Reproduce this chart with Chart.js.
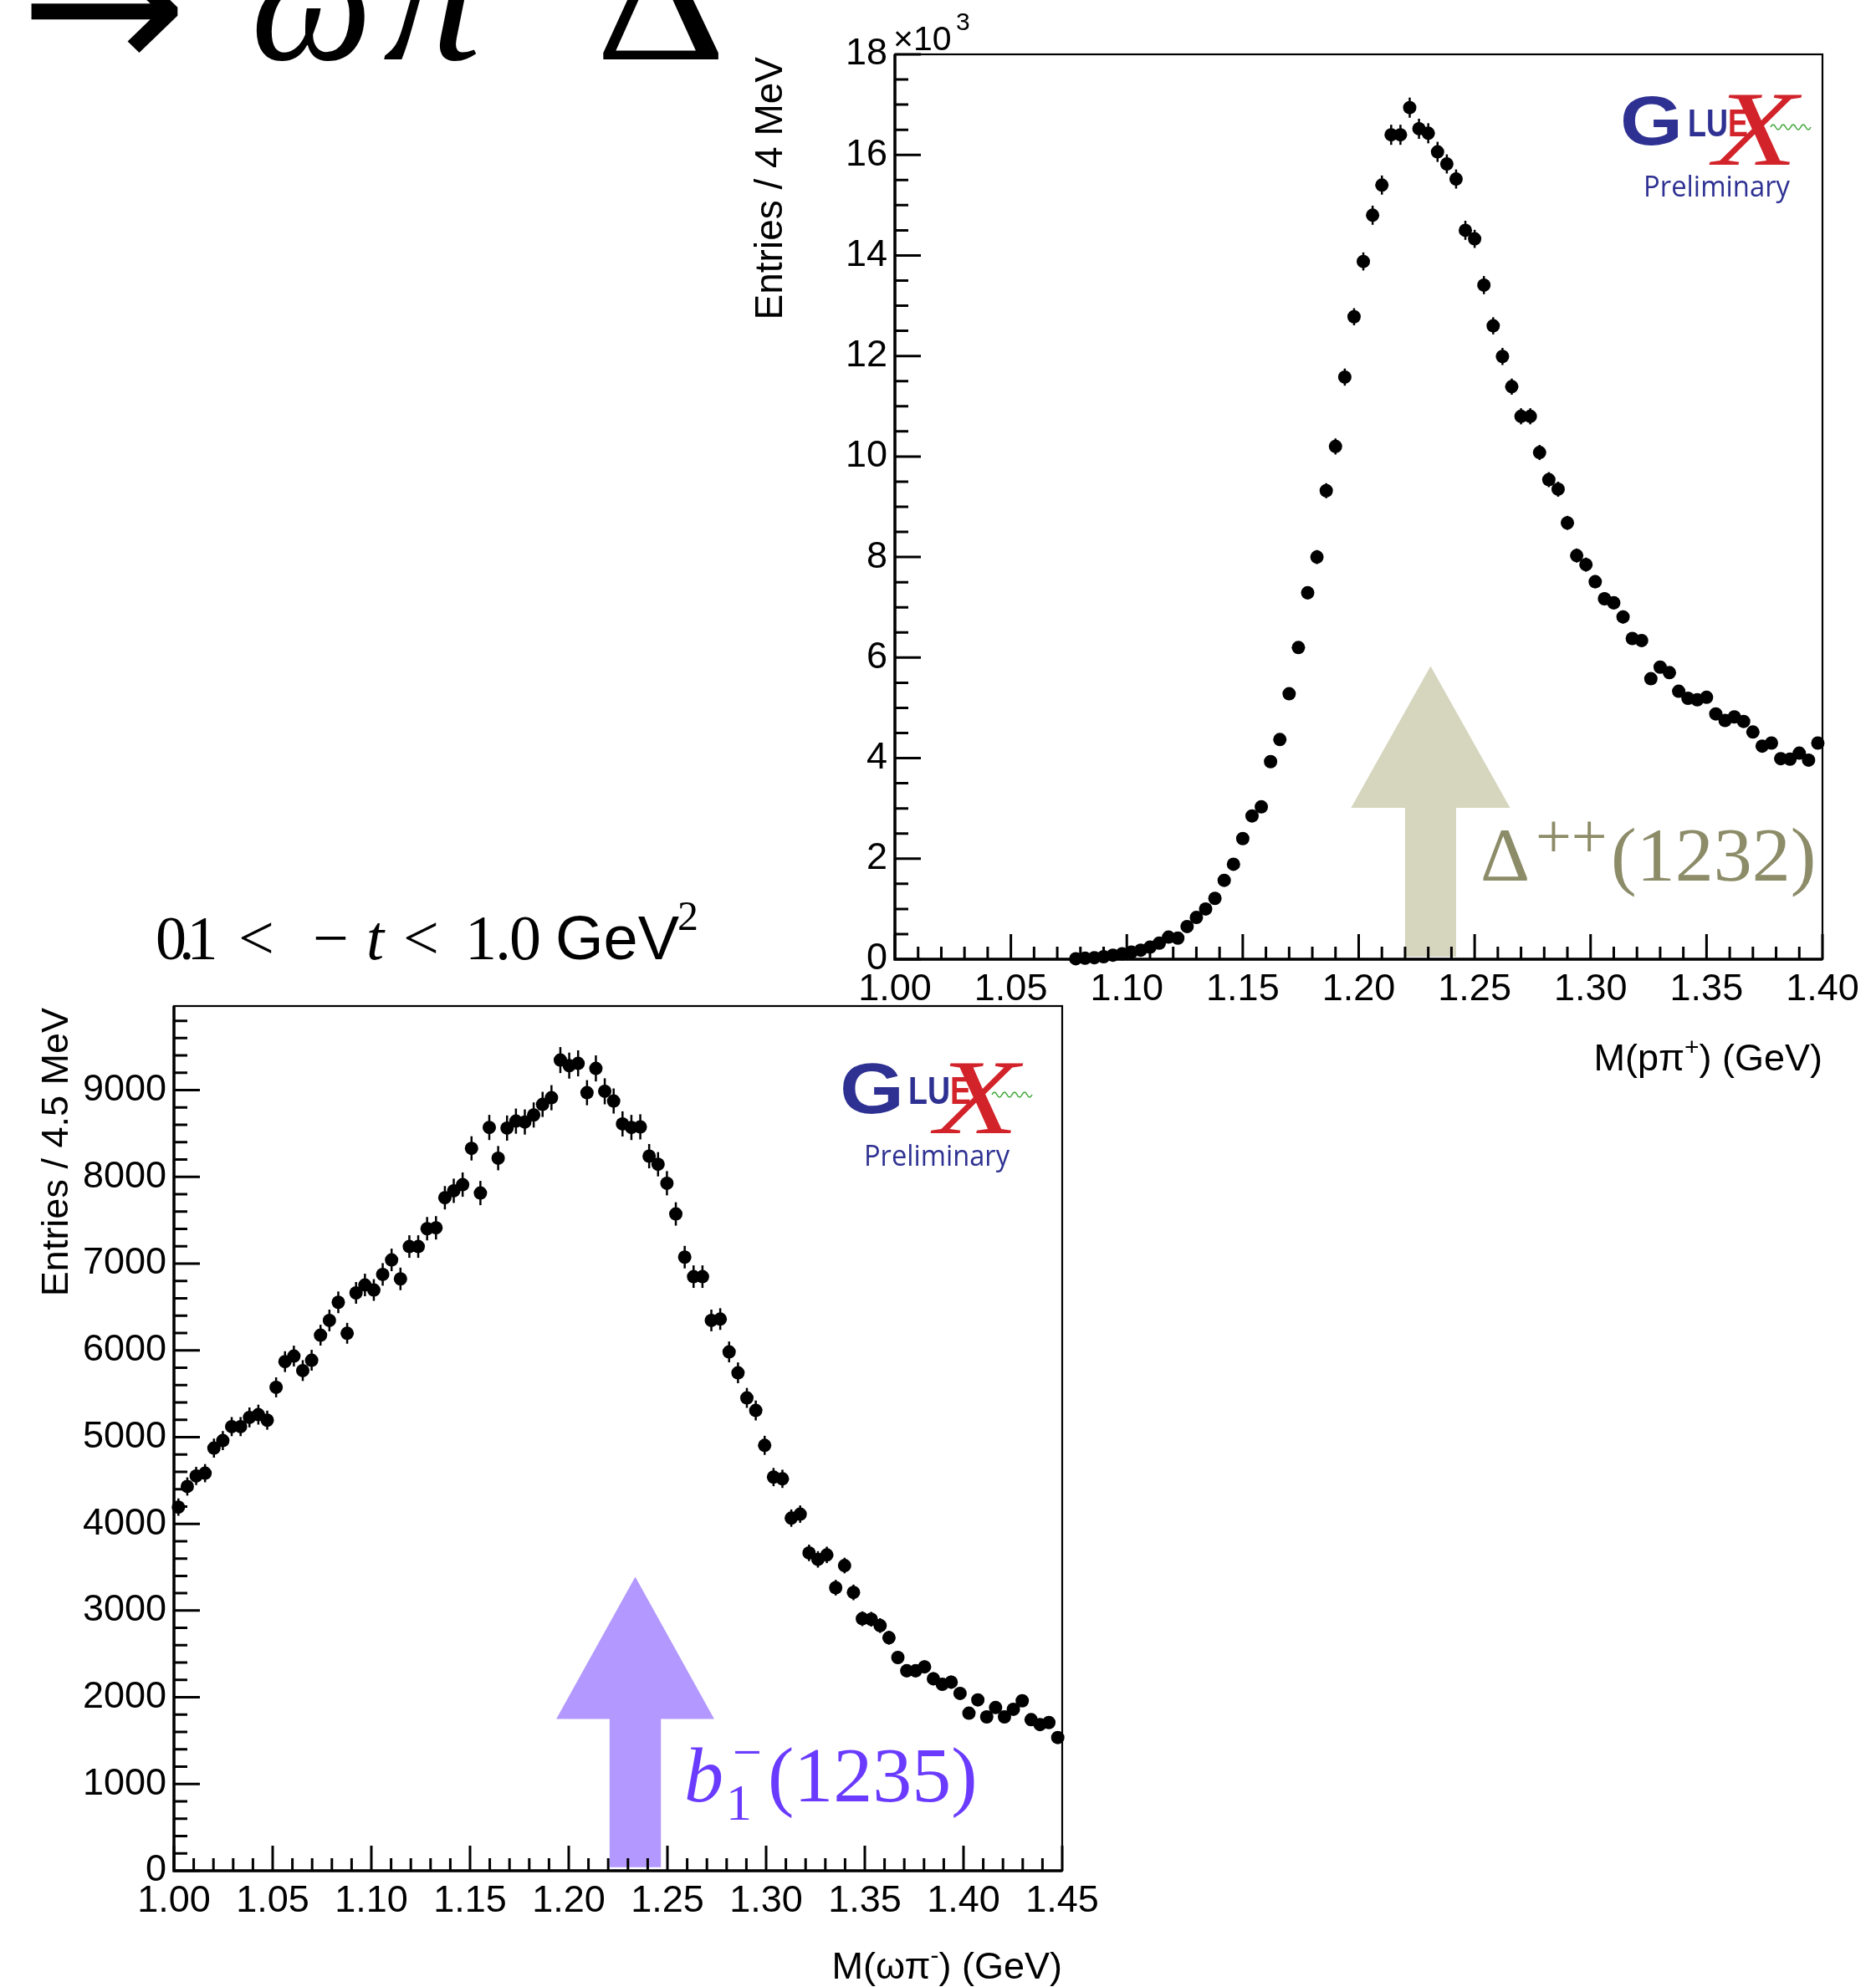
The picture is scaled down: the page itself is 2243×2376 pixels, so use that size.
<!DOCTYPE html>
<html>
<head>
<meta charset="utf-8">
<script src="https://cdn.jsdelivr.net/npm/chart.js@4.4.1/dist/chart.umd.min.js"></script>
<style>
  html, body { margin: 0; padding: 0; background: #fff; }
  body { width: 2243px; height: 2376px; position: relative; overflow: hidden; }
  .plot { position: absolute; }
  #overlay { position: absolute; left: 0; top: 0; z-index: 5; }
</style>
</head>
<body>
<div class="plot" style="left:950px; top:0px; width:1293px; height:1240px">
  <canvas id="deltaChart" width="1293" height="1240" style="width:1293px;height:1240px"></canvas>
</div>
<div class="plot" style="left:80px; top:1150px; width:1250px; height:1180px">
  <canvas id="b1Chart" width="1250" height="1180" style="width:1250px;height:1180px"></canvas>
</div>

<svg id="overlay" width="2243" height="2376" xmlns="http://www.w3.org/2000/svg">
  <!-- slide title, cut at the top edge -->
  <g font-family="Liberation Serif" fill="#000">
    <text x="24" y="86" font-family="DejaVu Sans" font-size="230" textLength="200" lengthAdjust="spacingAndGlyphs">→</text>
    <text x="300" y="71" font-size="205" font-style="italic">ω</text>
    <text x="458" y="71" font-size="205" font-style="italic" textLength="118" lengthAdjust="spacingAndGlyphs">π</text>
    <text x="712" y="71" font-size="200" textLength="156" lengthAdjust="spacingAndGlyphs">Δ</text>
  </g>

  <!-- t range -->
  <g font-family="Liberation Serif" font-size="76" fill="#000">
    <text x="186" y="1147" font-size="74" letter-spacing="-9">0.1</text>
    <text x="285" y="1147">&lt;</text>
    <text x="374" y="1147">−</text>
    <text x="438" y="1147" font-style="italic">t</text>
    <text x="482" y="1147">&lt;</text>
    <text x="556" y="1147" letter-spacing="-2">1.0</text>
    <text x="664" y="1147" font-family="Liberation Sans" font-size="74">GeV</text>
    <text x="810" y="1112" font-size="50">2</text>
  </g>

  <!-- top panel labels -->
  <g font-family="Liberation Sans" fill="#000">
    <text x="1068" y="60" font-size="41">×10</text>
    <text x="1143" y="36" font-size="30">3</text>
    <text transform="translate(935,68) rotate(-90)" text-anchor="end" font-size="46">Entries / 4 MeV</text>
    <text x="2179" y="1280" text-anchor="end" font-size="45">M(pπ<tspan dy="-18" font-size="30">+</tspan><tspan dy="18">) (GeV)</tspan></text>
  </g>
  <text y="1053" font-family="Liberation Serif" font-size="92" fill="#8c8c69">
    <tspan x="1770">Δ</tspan><tspan x="1836" y="1025" font-size="76">++</tspan><tspan x="1926" y="1053">(1232)</tspan>
  </text>

  <!-- bottom panel labels -->
  <g font-family="Liberation Sans" fill="#000">
    <text transform="translate(81,1205) rotate(-90)" text-anchor="end" font-size="45">Entries / 4.5 MeV</text>
    <text x="1270" y="2366" text-anchor="end" font-size="45">M(ωπ<tspan dy="-18" font-size="30">-</tspan><tspan dy="18">) (GeV)</tspan></text>
  </g>
  <text y="2154" font-family="Liberation Serif" font-size="94" fill="#6a3bff">
    <tspan x="818" font-style="italic">b</tspan><tspan x="868" y="2176" font-size="62">1</tspan><tspan x="876" y="2116" font-size="62">−</tspan><tspan x="918" y="2154">(1235)</tspan>
  </text>

  <!-- GlueX logos -->
  <g id="logoTop" transform="translate(1939,116)">
    <text x="-2" y="57" font-family="Liberation Sans" font-weight="bold" font-size="84" fill="#2e3192" textLength="75" lengthAdjust="spacingAndGlyphs">G</text>
    <text x="79" y="47" font-family="Liberation Sans" font-weight="bold" font-size="46" textLength="72" lengthAdjust="spacingAndGlyphs"><tspan fill="#2e3192">LU</tspan><tspan fill="#d2232a">E</tspan></text>
    <text x="110" y="81" font-family="Liberation Serif" font-style="italic" font-size="128" fill="#d2232a" textLength="100" lengthAdjust="spacingAndGlyphs">X</text>
    <path d="M178 36 q3 -6 6 0 t6 0 t6 0 t6 0 t6 0 t6 0 t6 0 t6 0" stroke="#3fa73a" stroke-width="1.6" fill="none"/>
    <text x="26" y="119" font-family="Open Sans" font-size="34" fill="#2e3192" textLength="175" lengthAdjust="spacingAndGlyphs">Preliminary</text>
  </g>
  <g id="logoBottom" transform="translate(1006,1273)">
    <text x="-2" y="58" font-family="Liberation Sans" font-weight="bold" font-size="85" fill="#2e3192" textLength="77" lengthAdjust="spacingAndGlyphs">G</text>
    <text x="80" y="47" font-family="Liberation Sans" font-weight="bold" font-size="46" textLength="75" lengthAdjust="spacingAndGlyphs"><tspan fill="#2e3192">LU</tspan><tspan fill="#d2232a">E</tspan></text>
    <text x="112" y="82" font-family="Liberation Serif" font-style="italic" font-size="128" fill="#d2232a" textLength="100" lengthAdjust="spacingAndGlyphs">X</text>
    <path d="M180 36 q3 -6 6 0 t6 0 t6 0 t6 0 t6 0 t6 0 t6 0 t6 0" stroke="#3fa73a" stroke-width="1.6" fill="none"/>
    <text x="27" y="121" font-family="Open Sans" font-size="34" fill="#2e3192" textLength="174" lengthAdjust="spacingAndGlyphs">Preliminary</text>
  </g>
</svg>

<script>
// M(p pi+) : 100 bins of 4 MeV starting at 1.00 GeV, entries in units of 10^3
const deltaBinStart = 1.00;
const deltaBinWidth = 0.004;
const deltaCounts = [
  null, null, null, null, null, null, null, null, null, null,
  null, null, null, null, null, null, null, null, null, 0.01,
  0.02, 0.03, 0.05, 0.08, 0.11, 0.14, 0.18, 0.24, 0.32, 0.44,
  0.42, 0.65, 0.83, 1.00, 1.21, 1.57, 1.89, 2.40, 2.85, 3.03,
  3.93, 4.37, 5.28, 6.20, 7.29, 8.00, 9.32, 10.20, 11.58, 12.78,
  13.88, 14.80, 15.40, 16.40, 16.40, 16.94, 16.52, 16.43, 16.06, 15.82,
  15.52, 14.50, 14.33, 13.41, 12.60, 11.99, 11.39, 10.80, 10.80, 10.08,
  9.54, 9.35, 8.68, 8.03, 7.85, 7.51, 7.17, 7.09, 6.81, 6.38,
  6.34, 5.58, 5.81, 5.70, 5.33, 5.19, 5.16, 5.21, 4.88, 4.75,
  4.82, 4.73, 4.52, 4.24, 4.30, 3.99, 3.98, 4.10, 3.96, 4.30
];
const deltaErrors = [
  null, null, null, null, null, null, null, null, null, null,
  null, null, null, null, null, null, null, null, null, 0.01,
  0.01, 0.01, 0.01, 0.01, 0.02, 0.02, 0.02, 0.02, 0.03, 0.03,
  0.03, 0.04, 0.04, 0.05, 0.05, 0.06, 0.07, 0.08, 0.08, 0.08,
  0.10, 0.10, 0.11, 0.12, 0.13, 0.14, 0.15, 0.16, 0.17, 0.17,
  0.18, 0.19, 0.19, 0.20, 0.20, 0.20, 0.20, 0.20, 0.20, 0.19,
  0.19, 0.19, 0.18, 0.18, 0.17, 0.17, 0.16, 0.16, 0.16, 0.15,
  0.15, 0.15, 0.14, 0.14, 0.14, 0.13, 0.13, 0.13, 0.13, 0.12,
  0.12, 0.12, 0.12, 0.12, 0.11, 0.11, 0.11, 0.11, 0.11, 0.11,
  0.11, 0.11, 0.10, 0.10, 0.10, 0.10, 0.10, 0.10, 0.10, 0.10
];
const deltaXTicks = [1.00, 1.05, 1.10, 1.15, 1.20, 1.25, 1.30, 1.35, 1.40];
const deltaYTicks = [0, 2, 4, 6, 8, 10, 12, 14, 16, 18];

// M(omega pi-) : 100 bins of 4.5 MeV starting at 1.00 GeV
const b1BinStart = 1.00;
const b1BinWidth = 0.0045;
const b1Counts = [
  4193, 4431, 4552, 4584, 4873, 4960, 5121, 5121, 5227, 5259,
  5195, 5574, 5870, 5934, 5767, 5886, 6175, 6345, 6554, 6197,
  6663, 6754, 6696, 6876, 7043, 6824, 7197, 7197, 7403, 7413,
  7760, 7840, 7911, 8329, 7814, 8570, 8216, 8563, 8643, 8633,
  8714, 8836, 8913, 9347, 9283, 9309, 8971, 9251, 8987, 8875,
  8611, 8570, 8577, 8239, 8146, 7927, 7573, 7075, 6850, 6850,
  6345, 6361, 5982, 5741, 5452, 5307, 4905, 4539, 4519, 4066,
  4112, 3665, 3590, 3642, 3264, 3519, 3209, 2906, 2900, 2827,
  2687, 2459, 2306, 2306, 2351, 2214, 2149, 2175, 2045, 1817,
  1970, 1774, 1882, 1774, 1862, 1960, 1742, 1686, 1709, 1536
];
const b1Errors = [
  100, 105, 105, 105, 110, 110, 110, 110, 115, 115,
  110, 115, 120, 120, 120, 120, 120, 125, 125, 120,
  125, 130, 125, 130, 130, 130, 130, 130, 135, 135,
  135, 140, 140, 140, 140, 145, 140, 145, 145, 145,
  145, 145, 145, 150, 150, 150, 145, 150, 150, 145,
  145, 145, 145, 140, 140, 140, 135, 130, 130, 130,
  125, 125, 120, 120, 115, 115, 110, 105, 105, 100,
  100, 95, 95, 95, 90, 90, 90, 85, 85, 85,
  80, 75, 75, 75, 75, 75, 70, 75, 70, 65,
  70, 65, 70, 65, 65, 70, 65, 65, 65, 60
];
const b1XTicks = [1.00, 1.05, 1.10, 1.15, 1.20, 1.25, 1.30, 1.35, 1.40, 1.45];
const b1YTicks = [0, 1000, 2000, 3000, 4000, 5000, 6000, 7000, 8000, 9000];

// resonance arrows, in axis units
const deltaArrow = { mass: 1.231, tip: 5.83, neck: 3.01, base: 0.05, headHalf: 0.0343, shaftHalf: 0.011, color: '#d6d6bf' };
const b1Arrow = { mass: 1.2337, tip: 3390, neck: 1750, base: 40, headHalf: 0.040, shaftHalf: 0.013, color: '#b399ff' };

function histPoints(start, width, counts, errors) {
  const pts = [];
  counts.forEach((c, i) => {
    if (c === null) return;
    pts.push({ x: start + width * (i + 0.5), y: c, e: errors[i] });
  });
  return pts;
}

// ROOT-like frame: ticks inside, arrow and error bars
const rootAxes = {
  id: 'rootAxes',
  beforeDatasetsDraw(chart, args, o) {
    const { ctx, scales: { x, y } } = chart;
    const m = o.arrow;
    const X = v => x.getPixelForValue(v);
    const Y = v => y.getPixelForValue(v);
    ctx.save();
    ctx.fillStyle = m.color;
    ctx.beginPath();
    ctx.moveTo(X(m.mass - m.shaftHalf), Y(m.base));
    ctx.lineTo(X(m.mass - m.shaftHalf), Y(m.neck));
    ctx.lineTo(X(m.mass - m.headHalf), Y(m.neck));
    ctx.lineTo(X(m.mass), Y(m.tip));
    ctx.lineTo(X(m.mass + m.headHalf), Y(m.neck));
    ctx.lineTo(X(m.mass + m.shaftHalf), Y(m.neck));
    ctx.lineTo(X(m.mass + m.shaftHalf), Y(m.base));
    ctx.closePath();
    ctx.fill();

    ctx.strokeStyle = '#000';
    ctx.lineWidth = 2.5;
    chart.data.datasets[0].data.forEach(p => {
      const px = X(p.x);
      ctx.beginPath();
      ctx.moveTo(px, Y(p.y - p.e));
      ctx.lineTo(px, Y(p.y + p.e));
      ctx.stroke();
    });
    ctx.restore();
  },
  afterDatasetsDraw(chart, args, o) {
    const { ctx, chartArea: a, scales: { x, y } } = chart;
    ctx.save();
    ctx.strokeStyle = '#000';
    ctx.lineWidth = 3;
    ctx.beginPath();
    const nx = Math.round((x.max - x.min) / o.xMinor);
    for (let k = 0; k <= nx; k++) {
      const px = x.getPixelForValue(x.min + k * o.xMinor);
      const len = k % o.xPer === 0 ? 30 : 15;
      ctx.moveTo(px, a.bottom);
      ctx.lineTo(px, a.bottom - len);
    }
    const ny = Math.floor((y.max - y.min) / o.yMinor + 1e-6);
    for (let k = 0; k <= ny; k++) {
      const py = y.getPixelForValue(y.min + k * o.yMinor);
      const len = k % o.yPer === 0 ? 31 : 16;
      ctx.moveTo(a.left, py);
      ctx.lineTo(a.left + len, py);
    }
    ctx.stroke();

    ctx.lineWidth = 2.2;
    ctx.strokeRect(a.left, a.top, a.right - a.left, a.bottom - a.top);
    ctx.lineWidth = 3.5;
    ctx.beginPath();
    ctx.moveTo(a.left, a.top);
    ctx.lineTo(a.left, a.bottom);
    ctx.lineTo(a.right, a.bottom);
    ctx.stroke();
    ctx.restore();
  }
};

function makeHist(id, cfg) {
  const font = { family: 'Liberation Sans', size: 45 };
  return new Chart(document.getElementById(id), {
    type: 'scatter',
    data: {
      datasets: [{
        data: cfg.points,
        backgroundColor: '#000',
        borderWidth: 0,
        pointRadius: 8,
        pointStyle: 'circle',
        clip: false
      }]
    },
    options: {
      responsive: false,
      animation: false,
      devicePixelRatio: 1,
      events: [],
      layout: { padding: cfg.padding },
      scales: {
        x: {
          type: 'linear',
          min: cfg.xMin,
          max: cfg.xMax,
          grid: { display: false, drawTicks: false },
          border: { display: false },
          afterBuildTicks: s => { s.ticks = cfg.xTicks.map(v => ({ value: v })); },
          afterFit: s => { s.height = cfg.xAxisHeight; },
          ticks: { font, color: '#000', padding: 10, maxRotation: 0, autoSkip: false,
                   callback: v => Number(v).toFixed(2) }
        },
        y: {
          type: 'linear',
          min: 0,
          max: cfg.yMax,
          grid: { display: false, drawTicks: false },
          border: { display: false },
          afterBuildTicks: s => { s.ticks = cfg.yTicks.map(v => ({ value: v })); },
          afterFit: s => { s.width = cfg.yAxisWidth; },
          ticks: { font, color: '#000', padding: 9, autoSkip: false,
                   callback: v => String(v) }
        }
      },
      plugins: {
        legend: { display: false },
        tooltip: { enabled: false },
        rootAxes: cfg.axes
      }
    },
    plugins: [rootAxes]
  });
}

makeHist('deltaChart', {
  points: histPoints(deltaBinStart, deltaBinWidth, deltaCounts, deltaErrors),
  xMin: 1.0, xMax: 1.4, yMax: 18,
  xTicks: deltaXTicks, yTicks: deltaYTicks,
  padding: { top: 65, right: 64, bottom: 0, left: 0 },
  xAxisHeight: 93, yAxisWidth: 120,
  axes: { arrow: deltaArrow, xMinor: 0.01, xPer: 5, yMinor: 0.5, yPer: 4 }
});

makeHist('b1Chart', {
  points: histPoints(b1BinStart, b1BinWidth, b1Counts, b1Errors),
  xMin: 1.0, xMax: 1.45, yMax: 9970,
  xTicks: b1XTicks, yTicks: b1YTicks,
  padding: { top: 53, right: 60, bottom: 0, left: 0 },
  xAxisHeight: 93, yAxisWidth: 128,
  axes: { arrow: b1Arrow, xMinor: 0.01, xPer: 5, yMinor: 200, yPer: 5 }
});
</script>
</body>
</html>
